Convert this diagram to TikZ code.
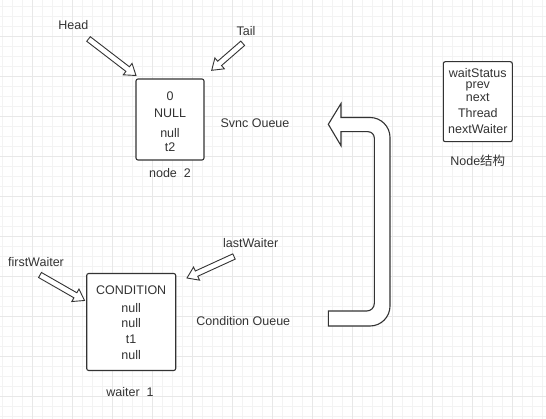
\documentclass[tikz,border=0pt]{standalone}
\usepackage{fontspec}
\setmainfont{Liberation Sans}
\newfontfamily\cjkfont{Noto Sans CJK SC}
\usetikzlibrary{calc}
\definecolor{ink}{HTML}{333333}
\definecolor{gridminor}{HTML}{F3F3F3}
\definecolor{gridmajor}{HTML}{E8E8E8}
\newcommand{\hollowarrow}[2]{%
  \coordinate (hah) at ($(#2)!10.5pt!(#1)$);
  \draw[blockarrow] ($(#1)!2.9pt!90:(#2)$) -- ($(hah)!2.9pt!90:(#2)$) -- ($(hah)!7.2pt!90:(#2)$) -- (#2)
    -- ($(hah)!7.2pt!-90:(#2)$) -- ($(hah)!2.9pt!-90:(#2)$) -- ($(#1)!2.9pt!-90:(#2)$) -- cycle;
}
\begin{document}
\begin{tikzpicture}[x=1pt,y=-1pt,
  txt/.style={anchor=base,inner sep=0pt,text=ink,font=\fontsize{12.5}{15}\selectfont},
  box/.style={draw=ink,line width=1.1pt,fill=white,rounded corners=2pt,inner sep=0pt},
  blockarrow/.style={draw=ink,line width=0.9pt,fill=white,line join=miter},
  uarrow/.style={draw=ink,line width=1.1pt,fill=white,line join=miter}]
\useasboundingbox (0,0) rectangle (546,419);
\fill[white] (0,0) rectangle (546,419);
% grid
\foreach \x in {2.7,12.7,...,546} \draw[gridminor,line width=0.8pt] (\x,0) -- (\x,419);
\foreach \y in {6,16,...,419} \draw[gridminor,line width=0.8pt] (0,\y) -- (546,\y);
\foreach \x in {32.7,72.7,...,546} \draw[gridmajor,line width=0.8pt] (\x,0) -- (\x,419);
\foreach \y in {36,76,...,419} \draw[gridmajor,line width=0.8pt] (0,\y) -- (546,\y);

% boxes
\node[box,minimum width=68pt,minimum height=81pt] (sync) at (170,119.5) {};
\node[box,minimum width=89pt,minimum height=97pt] (cond) at (131.2,322) {};
\node[box,minimum width=69pt,minimum height=80pt] (struct) at (477.8,101.7) {};

% sync box text
\foreach \t/\y [count=\i] in {0/100.5,NULL/117.2,null/137.3,t2/151.8}
  \node[txt] (s\i) at (170,\y) {\t};
\node[txt] (syncname) at (170,177.2) {node\ \ 2};

% condition box text
\foreach \t/\y [count=\i] in {CONDITION/294.5,null/312.8,null/327.2,t1/343.8,null/359.5}
  \node[txt] (c\i) at (131.2,\y) {\t};
\node[txt] (condname) at (130,396.8) {waiter\ \ 1};

% structure box text
\foreach \t/\y [count=\i] in {waitStatus/78,prev/89,next/102,Thread/117.5,nextWaiter/134}
  \node[txt] (n\i) at (477.8,\y) {\t};
\node[txt] (structname) at (477.8,165.5) {Node{\cjkfont 结构}};

% pointer labels
\node[txt] (head) at (73.3,29.3) {Head};
\node[txt] (tail) at (246,35.2) {Tail};
\node[txt] (first) at (36,266.2) {firstWaiter};
\node[txt] (last) at (250.7,247.8) {lastWaiter};
\node[txt] (syncq) at (255,127.5) {Svnc Oueue};
\node[txt] (condq) at (243.3,326) {Condition Oueue};

% hollow pointer arrows
\coordinate (headS) at (88.5,39);
\coordinate (headE) at (136,75.5);
\coordinate (tailS) at (242.7,43.3);
\coordinate (tailE) at (211.7,70.3);
\coordinate (fwS) at (40,275);
\coordinate (fwE) at (84.5,300.5);
\coordinate (lwS) at (234,256.5);
\coordinate (lwE) at (187,278);
\hollowarrow{headS}{headE}
\hollowarrow{tailS}{tailE}
\hollowarrow{fwS}{fwE}
\hollowarrow{lwS}{lwE}

% U-turn arrow
\draw[uarrow] (328.3,124.3) -- (341,103.5) -- (341,117.5) -- (370,117.5)
  arc[start angle=-90,end angle=0,radius=20] -- (390,306)
  arc[start angle=0,end angle=90,radius=20] -- (328.3,326) -- (328.3,311) -- (366.8,311)
  arc[start angle=90,end angle=0,radius=7.5] -- (374.3,138)
  arc[start angle=0,end angle=-90,radius=6.3] -- (341,131.7) -- (341,145.7) -- cycle;
\end{tikzpicture}
\end{document}
